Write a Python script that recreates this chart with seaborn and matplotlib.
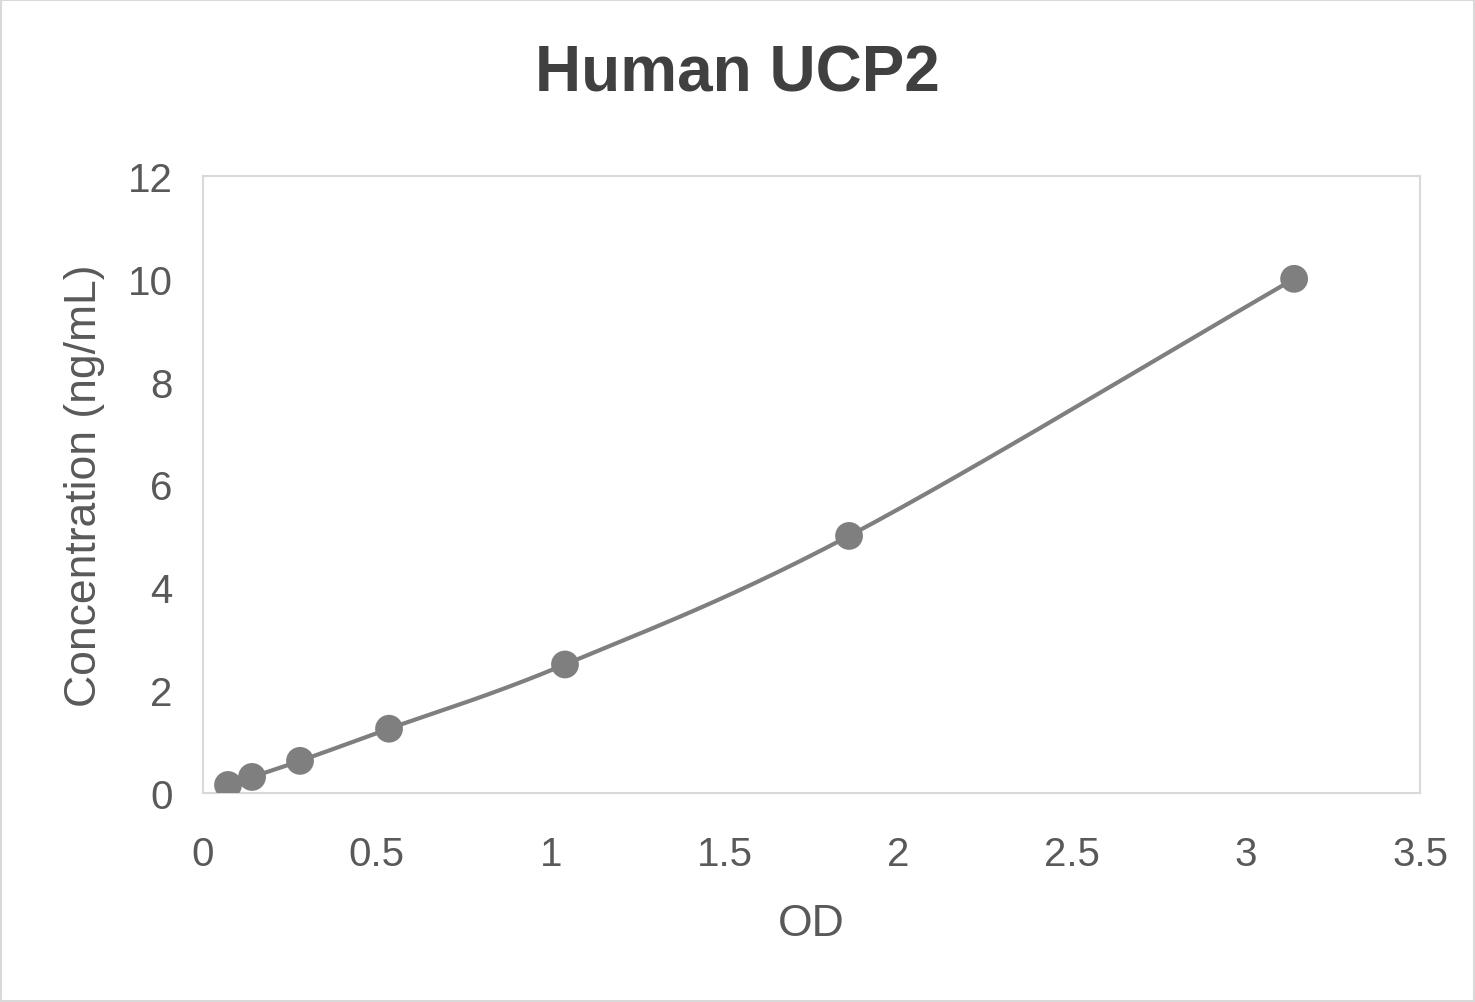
import numpy as np
import matplotlib
matplotlib.use("Agg")
import matplotlib.pyplot as plt
import seaborn as sns

od = [0.072, 0.141, 0.279, 0.535, 1.041, 1.858, 3.138]
conc = [0.156, 0.3125, 0.625, 1.25, 2.5, 5.0, 10.0]
x_ticks = [0, 0.5, 1, 1.5, 2, 2.5, 3, 3.5]
x_labels = ["0", "0.5", "1", "1.5", "2", "2.5", "3", "3.5"]
y_ticks = [0, 2, 4, 6, 8, 10, 12]

sns.set_theme(style="white")
plt.rcParams['font.family'] = ['Liberation Sans', 'DejaVu Sans']

def catmull(xs, ys, n=30):
    P = np.column_stack([xs, ys])
    P = np.vstack([2*P[0]-P[1], P, 2*P[-1]-P[-2]])
    out = []
    for i in range(1, len(P)-2):
        p0, p1, p2, p3 = P[i-1], P[i], P[i+1], P[i+2]
        t = np.linspace(0, 1, n)[:, None]
        seg = 0.5*((2*p1) + (-p0+p2)*t + (2*p0-5*p1+4*p2-p3)*t**2 + (-p0+3*p1-3*p2+p3)*t**3)
        out.append(seg)
    out = np.vstack(out)
    return out[:, 0], out[:, 1]

fig = plt.figure(figsize=(14.75, 10.03), dpi=100)
ax = fig.add_axes([203/1475, 1-794/1003, (1420-203)/1475, (794-177)/1003])
sx, sy = catmull(od, conc)
sns.lineplot(x=sx, y=sy, ax=ax, color="#7f7f7f", linewidth=3, sort=False)
sns.scatterplot(x=od, y=conc, ax=ax, color="#7f7f7f", s=400, edgecolor="none", zorder=3)
ax.set_xlim(0, 3.5)
ax.set_ylim(0, 12)
ax.set_xticks(x_ticks)
ax.set_xticklabels(x_labels)
ax.set_yticks(y_ticks)
ax.tick_params(labelsize=29, colors="#595959", length=0)
ax.tick_params(axis="x", pad=30)
ax.tick_params(axis="y", pad=22)
for s in ax.spines.values():
    s.set_color("#d9d9d9")
    s.set_linewidth(1.5)
ax.set_xlabel("OD", fontsize=32, color="#595959", labelpad=22)
ax.set_ylabel("Concentration (ng/mL)", fontsize=32, color="#595959", labelpad=16)
fig.text(0.5, 1-74/1003, "Human UCP2", ha="center", va="center", fontsize=46, fontweight="bold", color="#404040")
fig.patches.append(plt.Rectangle((0.001, 0.001), 0.998, 0.998, transform=fig.transFigure, fill=False, edgecolor="#d9d9d9", linewidth=1.5))
fig.savefig("out.png", dpi=100)
